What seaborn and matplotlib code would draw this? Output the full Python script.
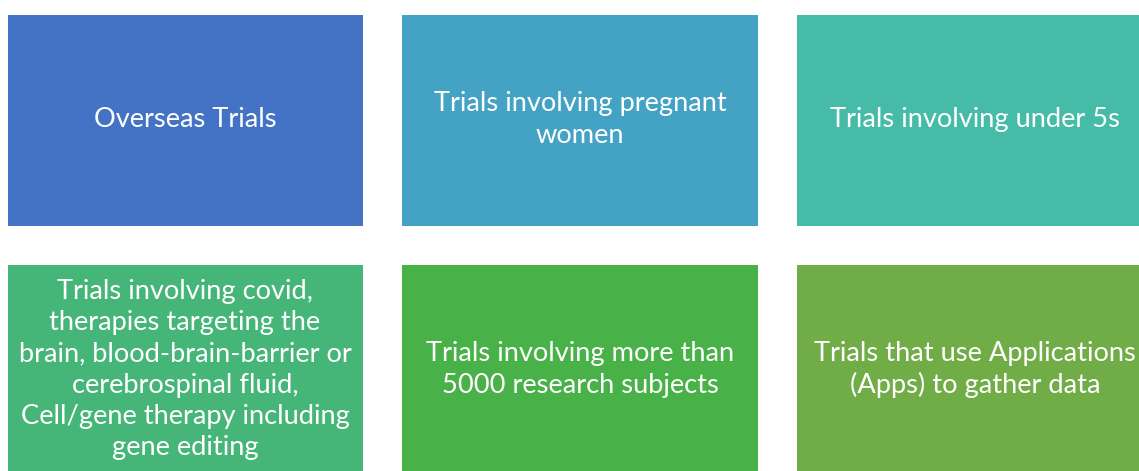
import numpy as np
import matplotlib
matplotlib.use("Agg")
import matplotlib.pyplot as plt
from matplotlib.colors import ListedColormap
import seaborn as sns

# box labels, row by row
LABELS = [
    "Overseas Trials",
    "Trials involving pregnant\nwomen",
    "Trials involving under 5s",
    "Trials involving covid,\ntherapies targeting the\nbrain, blood-brain-barrier or\ncerebrospinal fluid,\nCell/gene therapy including\ngene editing",
    "Trials involving more than\n5000 research subjects",
    "Trials that use Applications\n(Apps) to gather data",
]
COLORS = ["#4472C4", "#44A2C4", "#45BBA8", "#46B678", "#48B248", "#70AD47"]
N_ROWS, N_COLS = 2, 3

sns.set_theme(style="white")
plt.rcParams["font.family"] = ["Lato", "DejaVu Sans"]

dpi = 100
W, H = 1139, 471
fig = plt.figure(figsize=(W / dpi, H / dpi), dpi=dpi)

# cell pitch incl. the white gap, in pixels
gap = 39
pitch_x, pitch_y = 395, 250
x0 = 7 - gap / 2
y0 = 14 - gap / 2
ax = fig.add_axes([x0 / W, 1 - (y0 + N_ROWS * pitch_y) / H,
                   N_COLS * pitch_x / W, N_ROWS * pitch_y / H])

idx = np.arange(len(LABELS)).reshape(N_ROWS, N_COLS)
annot = np.array(LABELS, dtype=object).reshape(N_ROWS, N_COLS)

sns.heatmap(idx, ax=ax, cmap=ListedColormap(COLORS), vmin=-0.5, vmax=len(COLORS) - 0.5,
            annot=annot, fmt="", cbar=False, linewidths=gap * 72 / dpi, linecolor="white",
            xticklabels=False, yticklabels=False,
            annot_kws={"color": "white", "fontsize": 19.6, "linespacing": 1.31})

fig.savefig("out.png", dpi=dpi, facecolor="white")
